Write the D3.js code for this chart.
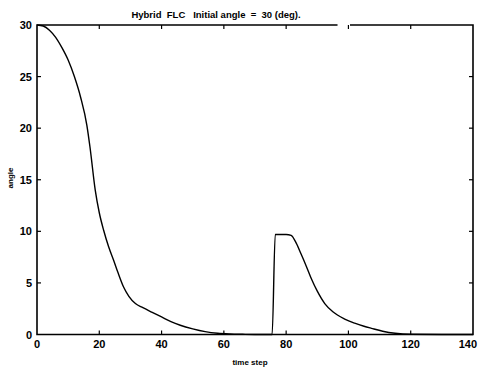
<!DOCTYPE html>
<html>
<head>
<meta charset="utf-8">
<script src="https://cdn.jsdelivr.net/npm/d3@7"></script>
<style>
  body { margin: 0; background: #fff; }
  text { font-family: "Liberation Sans", Arial, sans-serif; font-weight: bold; fill: #000; white-space: pre; }
</style>
</head>
<body>
<script>
var width = 478;
var height = 368;

// values
var timeStep = [0, 2, 4, 6, 8, 10, 12, 14, 16, 17, 18.7, 20, 21.4, 23, 24.6, 26, 27.8, 29.5, 31.6, 34, 37, 40, 43, 46, 50, 54, 58, 62, 66, 70, 75.5,
                76.5, 78, 80, 81.6, 83, 84.8, 86.5, 88.1, 90, 92.4, 95, 98.8, 102, 105, 107.4, 111, 115, 120, 130, 140];
var angle = [30, 29.9, 29.5, 28.8, 27.8, 26.6, 25, 23, 20.3, 18.2, 14.0, 11.8, 10.1, 8.5, 7.2, 6.0, 4.6, 3.7, 3.0, 2.6, 2.15, 1.7, 1.25, 0.9, 0.55, 0.28, 0.12, 0.05, 0.02, 0.0, 0.0,
             9.7, 9.7, 9.7, 9.6, 9.0, 7.8, 6.6, 5.4, 4.2, 3.0, 2.2, 1.5, 1.1, 0.8, 0.6, 0.32, 0.12, 0.02, 0, 0];
var xTicks = [0, 20, 40, 60, 80, 100, 120, 140];
var yTicks = [0, 5, 10, 15, 20, 25, 30];
var title = "Hybrid  FLC   Initial angle  =  30 (deg).";

var x = d3.scaleLinear().domain([0, 140]).range([37, 473]);
var y = d3.scaleLinear().domain([0, 30]).range([334.5, 25]);

var svg = d3.select("body")
            .append("svg")
            .attr("width", width)
            .attr("height", height);

// inward ticks on all four sides
var inner = svg.append("g")
               .attr("stroke", "black")
               .attr("stroke-width", 1.2);

xTicks.slice(1, -1).forEach(function (t) {
  inner.append("line").attr("x1", x(t)).attr("x2", x(t)).attr("y1", y(0)).attr("y2", y(0) - 4);
  inner.append("line").attr("x1", x(t)).attr("x2", x(t)).attr("y1", y(30)).attr("y2", y(30) + 4);
});
yTicks.slice(1, -1).forEach(function (t) {
  inner.append("line").attr("x1", x(0)).attr("x2", x(0) + 4).attr("y1", y(t)).attr("y2", y(t));
  inner.append("line").attr("x1", x(140)).attr("x2", x(140) - 4).attr("y1", y(t)).attr("y2", y(t));
});

// frame (top edge has a small break, like the scan)
var frame = svg.append("g")
               .attr("stroke", "black")
               .attr("stroke-width", 1.6)
               .attr("fill", "none");
frame.append("path")
     .attr("d", "M" + x(96.5) + "," + y(30) + "H" + x(0) + "V" + y(0) + "H" + x(140) + "V" + y(30) + "H" + x(100.5));

// axis labels
svg.append("g")
   .selectAll("text")
   .data(xTicks)
   .enter()
   .append("text")
   .attr("x", d => d === 140 ? 477 : x(d))
   .attr("y", 348)
   .attr("text-anchor", d => d === 140 ? "end" : "middle")
   .attr("font-size", 11)
   .text(d => d);

svg.append("g")
   .selectAll("text")
   .data(yTicks)
   .enter()
   .append("text")
   .attr("x", 32)
   .attr("y", d => y(d) + 4)
   .attr("text-anchor", "end")
   .attr("font-size", 11)
   .text(d => d);

svg.append("text")
   .attr("x", 216)
   .attr("y", 18)
   .attr("text-anchor", "middle")
   .attr("font-size", 9.5)
   .text(title);

svg.append("text")
   .attr("x", 250)
   .attr("y", 365)
   .attr("text-anchor", "middle")
   .attr("font-size", 8)
   .text("time step");

svg.append("text")
   .attr("transform", "translate(13,178)rotate(-90)")
   .attr("text-anchor", "middle")
   .attr("font-size", 8)
   .text("angle");

// the response curve
var line = d3.line()
             .x(d => x(d[0]))
             .y(d => y(d[1]))
             .curve(d3.curveMonotoneX);

svg.append("path")
   .datum(d3.zip(timeStep, angle))
   .attr("fill", "none")
   .attr("stroke", "black")
   .attr("stroke-width", 1.4)
   .attr("d", line);
</script>
</body>
</html>
